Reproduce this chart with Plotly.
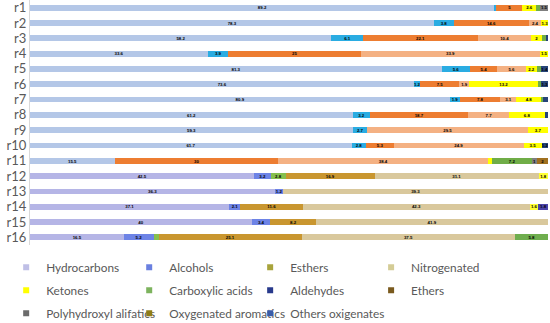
import plotly.graph_objects as go

rows = [f"r{i}" for i in range(1, 17)]

# values per family (r1 .. r16); None = not present
hydrocarbons = [89.2, 78.3, 58.2, 33.6, 81.3, 73.6, 80.9, 61.2, 59.3, 61.7, 15.5, 42.5, 36.3, 37.1, 40, 16.5]
alcohols = [0.4, 3.8, 6.1, 3.9, 5.6, 1.2, 1.9, 3.2, 2.7, 2.8, None, 3.2, 1.2, 2.1, 3.4, 5.2]
esthers = [None, None, None, None, None, None, None, None, None, None, None, 2.8, None, None, None, 0.9]
oxygenated_aromatics = [5, 14.6, 22.1, 25, 5.4, 7.5, 7.8, 18.7, None, 5.3, 30, 16.9, None, 11.6, 8.2, 25.1]
nitrogenated = [None, 2.4, 10.4, 33.9, 5.6, 1.9, 3.1, 7.7, 29.5, 24.9, 38.4, 31.1, 39.3, 42.3, 41.9, 37.5]
ketones = [2.6, 1.3, 2, 1.5, 2.2, 13.2, 4.8, 6.8, 3.7, 3.5, 0.8, 1.8, None, 1.6, None, None]
carboxylic_acids = [0.8, None, 0.9, None, 0.8, 0.6, 0.4, None, None, None, 7.2, None, None, None, None, 5.8]
aldehydes = [None, None, 0.3, None, 1.4, 1.3, 0.9, 0.6, None, 1.2, None, None, None, 1.8, None, None]
polyhydroxyl = [1.5, None, None, None, None, None, None, None, None, None, 1.0, None, None, None, None, None]
ethers = [None, None, None, None, None, None, None, None, None, None, 2.0, None, None, None, None, None]
others_oxigenates = [None] * 16

# stacking order (left to right): name, values, colour rows 1-11, colour rows 12-16
stack = [
    ("Hydrocarbons", hydrocarbons, "#B4C7E7", "#B5B5E6"),
    ("Alcohols", alcohols, "#2AACE2", "#6D83E6"),
    ("Esthers", esthers, "#8BC34A", "#86BF4E"),
    ("Oxygenated aromatics", oxygenated_aromatics, "#ED7D31", "#C9962F"),
    ("Nitrogenated", nitrogenated, "#F4B183", "#D9C89C"),
    ("Ketones", ketones, "#FFFF00", "#FFFF33"),
    ("Carboxylic acids", carboxylic_acids, "#70AD47", "#6FAE4E"),
    ("Aldehydes", aldehydes, "#264478", "#4B43A8"),
    ("Polyhydroxyl alifatics", polyhydroxyl, "#7F7F7F", "#6B6B6B"),
    ("Ethers", ethers, "#A0701F", "#7A5A1E"),
    ("Others oxigenates", others_oxigenates, "#2F5597", "#3A5BA8"),
]

# legend entries: (name, swatch colour, legend column)
legend_items = [
    ("Hydrocarbons", "#BFBFE6", 0),
    ("Alcohols", "#6A80E0", 1),
    ("Esthers", "#A8A43C", 2),
    ("Nitrogenated", "#D4CC96", 3),
    ("Ketones", "#FFFF00", 0),
    ("Carboxylic acids", "#7DB35E", 1),
    ("Aldehydes", "#283A8C", 2),
    ("Ethers", "#7A5A1E", 3),
    ("Polyhydroxyl alifatics", "#6B6B6B", 0),
    ("Oxygenated aromatics", "#8F7D18", 1),
    ("Others oxigenates", "#3A5BA8", 2),
]
legend_ids = ["legend", "legend2", "legend3", "legend4"]

fig = go.Figure()
for name, vals, ca, cb in stack:
    colors = [ca if i < 11 else cb for i in range(len(rows))]
    texts = ["" if v is None else f"{v:g}" for v in vals]
    fig.add_trace(go.Bar(
        y=rows, x=vals, name=name, orientation="h",
        marker=dict(color=colors, line=dict(width=0)),
        text=texts, textposition="inside", insidetextanchor="middle",
        textangle=0,
        textfont=dict(size=5, color="#000000", family="Liberation Sans", weight="bold"),
        showlegend=False, hoverinfo="name+x",
    ))

for name, col, c in legend_items:
    fig.add_trace(go.Scatter(
        x=[None], y=[None], mode="markers", name=name,
        marker=dict(symbol="square", size=6, color=col),
        showlegend=True, legend=legend_ids[c], legendgroup=name,
    ))

leg_font = dict(family="Lato", size=11.8, color="#595959")
col_x = [-0.046, 0.1915, 0.425, 0.6585]
layout_legends = {}
for k, lid in enumerate(legend_ids):
    layout_legends[lid] = dict(
        orientation="v", x=col_x[k], xanchor="left", y=-0.032, yanchor="top",
        font=leg_font, bgcolor="rgba(0,0,0,0)", itemwidth=30,
        tracegroupgap=4, traceorder="grouped",
    )

fig.update_layout(
    width=550, height=323,
    barmode="stack", barnorm="percent", bargap=0.62,
    margin=dict(l=30, r=2, t=0, b=78, autoexpand=False),
    paper_bgcolor="white", plot_bgcolor="white",
    uniformtext=dict(mode="hide", minsize=4),
    xaxis=dict(range=[0, 100], visible=False, showgrid=False, zeroline=False),
    yaxis=dict(type="category", autorange="reversed", showgrid=False, automargin=False,
               tickmode="array", tickvals=rows, ticktext=rows,
               showline=True, linecolor="#D9D9D9", linewidth=1, ticks="",
               tickfont=dict(family="Lato", size=13, color="#595959")),
    **layout_legends,
)

fig.write_html(
    "out.html",
    config={"displayModeBar": False},
    post_script="document.body.style.margin='0';document.body.style.overflow='hidden';",
)
